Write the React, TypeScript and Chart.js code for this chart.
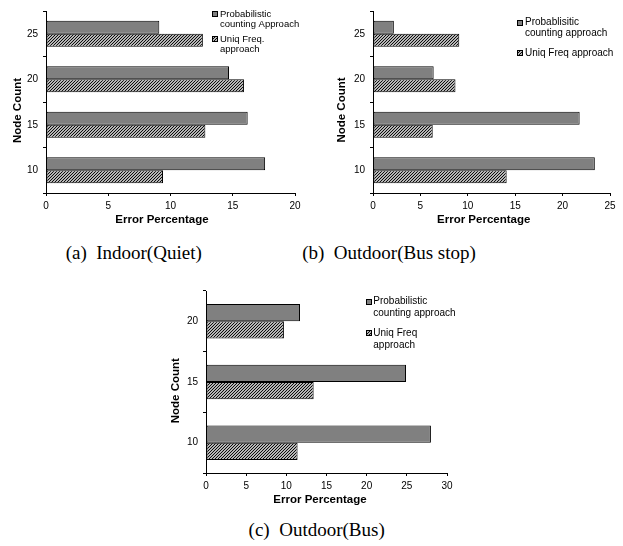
import React, { useEffect, useRef } from 'react';
import { Chart, registerables } from 'chart.js';

Chart.register(...registerables);

// ---------- data ----------
const categoriesA = ['25', '20', '15', '10'];
const probabilisticA = [9.1, 14.7, 16.2, 17.6];
const uniqFreqA = [12.6, 15.9, 12.8, 9.4];
const legendLinesA = [['Probabilistic', 'counting Approach'], ['Uniq Freq.', 'approach']];
const xMaxA = 20;

const categoriesB = ['25', '20', '15', '10'];
const probabilisticB = [2.2, 6.4, 21.8, 23.4];
const uniqFreqB = [9.1, 8.7, 6.3, 14.1];
const legendLinesB = [['Probablisitic', 'counting approach'], ['Uniq Freq approach']];
const xMaxB = 25;

const categoriesC = ['20', '15', '10'];
const probabilisticC = [11.7, 24.9, 28.0];
const uniqFreqC = [9.7, 13.4, 11.4];
const legendLinesC = [['Probabilistic', 'counting approach'], ['Uniq Freq', 'approach']];
const xMaxC = 30;

const xStep = 5;
const xTitle = 'Error Percentage';
const yTitle = 'Node Count';
const captions = ['(a)  Indoor(Quiet)', '(b)  Outdoor(Bus stop)', '(c)  Outdoor(Bus)'];

// ---------- styling / layout ----------
const SANS = '"Liberation Sans", Arial, sans-serif';
const SERIF = '"Liberation Serif", "Times New Roman", serif';
const GRAY = '#808080';

type PanelCfg = {
  left: number; top: number; width: number; height: number;
  plot: { l: number; r: number; t: number; b: number };
  categories: string[]; prob: number[]; uniq: number[]; legend: string[][]; xMax: number;
  legendFont: number; swatchX: number; textX: number; legendY: number[]; legendLH: number;
  xTitlePos: [number, number]; yTitlePos: [number, number];
};

const panels: PanelCfg[] = [
  {
    left: 0, top: 0, width: 310, height: 232,
    plot: { l: 46, r: 295, t: 6, b: 193 },
    categories: categoriesA, prob: probabilisticA, uniq: uniqFreqA, legend: legendLinesA, xMax: xMaxA,
    legendFont: 9.5, swatchX: 212, textX: 220, legendY: [14, 39], legendLH: 10.3,
    xTitlePos: [162, 220], yTitlePos: [18, 110.5],
  },
  {
    left: 310, top: 0, width: 313, height: 232,
    plot: { l: 63, r: 300, t: 5, b: 193 },
    categories: categoriesB, prob: probabilisticB, uniq: uniqFreqB, legend: legendLinesB, xMax: xMaxB,
    legendFont: 10, swatchX: 207, textX: 215, legendY: [22.7, 53.3], legendLH: 10.7,
    xTitlePos: [173.7, 220], yTitlePos: [31.7, 110],
  },
  {
    left: 160, top: 280, width: 320, height: 232,
    plot: { l: 46, r: 287, t: 9, b: 193 },
    categories: categoriesC, prob: probabilisticC, uniq: uniqFreqC, legend: legendLinesC, xMax: xMaxC,
    legendFont: 10, swatchX: 206, textX: 213.3, legendY: [21.7, 53.3], legendLH: 11.5,
    xTitlePos: [160, 220], yTitlePos: [16, 110.7],
  },
];

function makeHatch(ctx: CanvasRenderingContext2D): CanvasPattern | string {
  const s = 3;
  const c = document.createElement('canvas');
  c.width = s; c.height = s;
  const p = c.getContext('2d');
  if (!p) return '#fff';
  p.fillStyle = '#ffffff';
  p.fillRect(0, 0, s, s);
  p.strokeStyle = '#000000';
  p.lineWidth = 1.1;
  p.beginPath();
  p.moveTo(-1, s + 1); p.lineTo(s + 1, -1);
  p.moveTo(-1, 1); p.lineTo(1, -1);
  p.moveTo(s - 1, s + 1); p.lineTo(s + 1, s - 1);
  p.stroke();
  return ctx.createPattern(c, 'repeat') || '#fff';
}

function makeOverlay(cfg: PanelCfg) {
  return {
    id: 'overlay',
    afterDraw(chart: any) {
      const ctx: CanvasRenderingContext2D = chart.ctx;
      ctx.save();
      ctx.fillStyle = '#000';
      ctx.font = `bold 11.5px ${SANS}`;
      ctx.textAlign = 'center';
      ctx.textBaseline = 'middle';
      ctx.fillText(xTitle, cfg.xTitlePos[0], cfg.xTitlePos[1]);
      ctx.translate(cfg.yTitlePos[0], cfg.yTitlePos[1]);
      ctx.rotate(-Math.PI / 2);
      ctx.fillText(yTitle, 0, 0);
      ctx.restore();

      ctx.save();
      ctx.font = `${cfg.legendFont}px ${SANS}`;
      ctx.textAlign = 'left';
      ctx.textBaseline = 'middle';
      chart.data.datasets.forEach((ds: any, i: number) => {
        const y0 = cfg.legendY[i];
        ctx.fillStyle = ds.backgroundColor;
        ctx.fillRect(cfg.swatchX, Math.round(y0 - 3), 6, 6);
        ctx.strokeStyle = '#000';
        ctx.lineWidth = 1;
        ctx.strokeRect(cfg.swatchX + 0.5, Math.round(y0 - 3) + 0.5, 5, 5);
        ctx.fillStyle = '#000';
        cfg.legend[i].forEach((line, j) => {
          ctx.fillText(line, cfg.textX, y0 + j * cfg.legendLH);
        });
      });
      ctx.restore();
    },
  };
}

function Panel({ cfg }: { cfg: PanelCfg }) {
  const ref = useRef<HTMLCanvasElement | null>(null);
  useEffect(() => {
    const canvas = ref.current;
    if (!canvas) return;
    const ctx = canvas.getContext('2d');
    if (!ctx) return;
    const hatch = makeHatch(ctx);
    const { l, r, t, b } = cfg.plot;
    const chart = new Chart(canvas, {
      type: 'bar',
      data: {
        labels: cfg.categories,
        datasets: [
          {
            label: cfg.legend[0].join(' '),
            data: cfg.prob,
            backgroundColor: GRAY,
            borderColor: '#000',
            borderWidth: 1,
            borderSkipped: false,
            categoryPercentage: 0.57,
            barPercentage: 1.0,
          },
          {
            label: cfg.legend[1].join(' '),
            data: cfg.uniq,
            backgroundColor: hatch as any,
            borderColor: '#000',
            borderWidth: 1,
            borderSkipped: false,
            categoryPercentage: 0.57,
            barPercentage: 1.0,
          },
        ],
      },
      options: {
        indexAxis: 'y',
        responsive: false,
        animation: false,
        maintainAspectRatio: false,
        layout: { padding: { left: 0, right: cfg.width - r, top: t, bottom: 0 } },
        plugins: { legend: { display: false }, tooltip: { enabled: false }, title: { display: false } },
        scales: {
          x: {
            type: 'linear',
            min: 0,
            max: cfg.xMax,
            ticks: { stepSize: xStep, color: '#000', font: { family: SANS, size: 10 }, padding: 4, maxRotation: 0 },
            grid: { display: true, drawOnChartArea: false, drawTicks: true, tickLength: 3, tickColor: '#000', color: '#000' },
            border: { display: true, color: '#000', width: 1 },
            title: { display: false },
            afterFit: (scale: any) => { scale.height = cfg.height - b; },
          },
          y: {
            type: 'category',
            ticks: { color: '#000', font: { family: SANS, size: 10 }, padding: 5 },
            grid: { display: true, offset: true, drawOnChartArea: false, drawTicks: true, tickLength: 3, tickColor: '#000', color: '#000' },
            border: { display: true, color: '#000', width: 1 },
            title: { display: false },
            afterFit: (scale: any) => { scale.width = l; },
          },
        },
      },
      plugins: [makeOverlay(cfg)],
    });
    return () => chart.destroy();
  }, [cfg]);
  return (
    <canvas
      ref={ref}
      width={cfg.width}
      height={cfg.height}
      style={{ position: 'absolute', left: cfg.left, top: cfg.top, width: cfg.width, height: cfg.height }}
    />
  );
}

const captionBoxes = [
  { cx: 133.7, cy: 253 },
  { cx: 389, cy: 253 },
  { cx: 316.7, cy: 530 },
];

export default function App() {
  return (
    <div style={{ position: 'absolute', left: 0, top: 0, width: 623, height: 546, background: '#fff', overflow: 'hidden' }}>
      {panels.map((p, i) => (
        <Panel key={i} cfg={p} />
      ))}
      {captions.map((c, i) => (
        <div
          key={'c' + i}
          style={{
            position: 'absolute',
            left: captionBoxes[i].cx - 120,
            top: captionBoxes[i].cy - 11,
            width: 240,
            height: 22,
            lineHeight: '22px',
            textAlign: 'center',
            fontFamily: SERIF,
            fontSize: 19,
            whiteSpace: 'pre',
            color: '#000',
          }}
        >
          {c}
        </div>
      ))}
    </div>
  );
}
